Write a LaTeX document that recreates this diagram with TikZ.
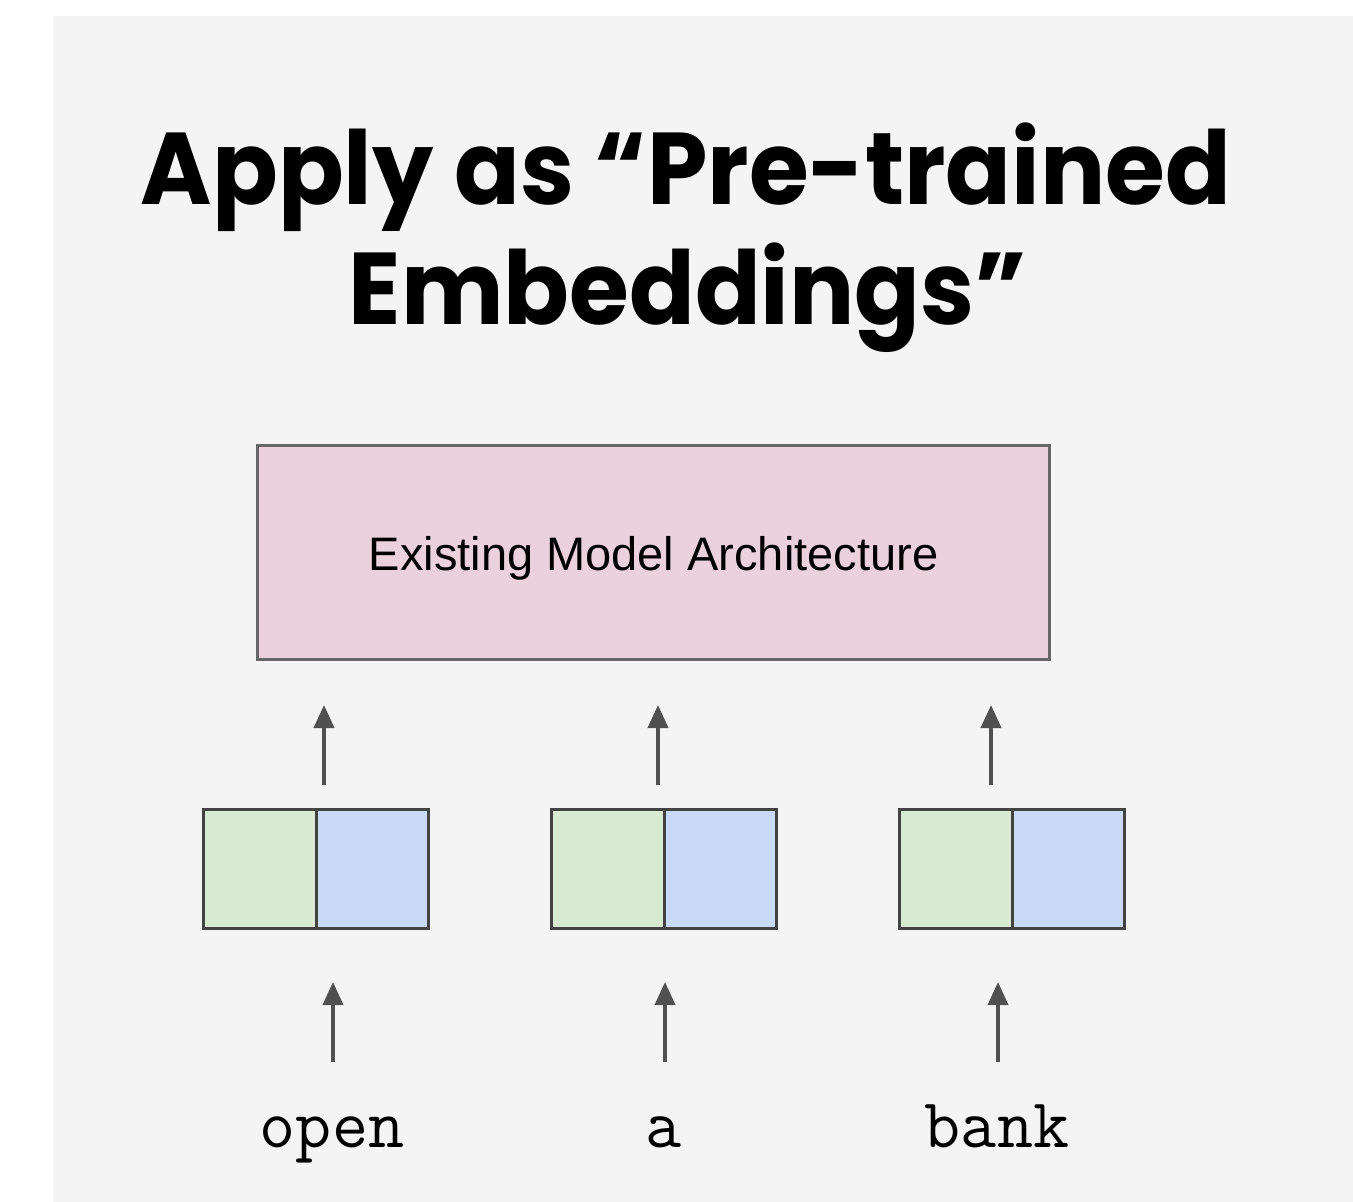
\documentclass[tikz,border=0pt]{standalone}
\usepackage{fontspec}
\setmainfont{Liberation Sans}
\newfontfamily\titlefont{Poppins}
\usetikzlibrary{arrows.meta}

\definecolor{bggray}{HTML}{F4F4F4}
\definecolor{archpink}{HTML}{EAD1DC}
\definecolor{embgreen}{HTML}{D9EAD3}
\definecolor{embblue}{HTML}{C9DAF8}
\definecolor{edgegray}{HTML}{666666}
\definecolor{darkedge}{HTML}{434343}
\definecolor{arrowgray}{HTML}{505050}

\tikzset{
	titletext/.style={font=\titlefont\bfseries\fontsize{51}{56}\selectfont, inner sep=0pt},
	archbox/.style={draw=edgegray, line width=1.5pt, fill=archpink, minimum width=396pt, minimum height=107pt, outer sep=0pt},
	archlabel/.style={font=\fontsize{23.5}{26}\selectfont, inner sep=0pt},
	halfbox/.style={draw=darkedge, line width=1.5pt, minimum width=56.25pt, minimum height=59.5pt, inner sep=0pt, outer sep=0pt},
	wordtext/.style={font=\ttfamily\fontsize{35}{38}\selectfont, inner sep=0pt},
	uparrow/.style={draw=arrowgray, line width=1.8pt, -{Triangle[length=11.5pt, width=10pt]}, color=arrowgray}
}

\begin{document}
\begin{tikzpicture}[x=0.5pt, y=-0.5pt]
		%%%%% START %%%%%
		
		\useasboundingbox (0, 0) rectangle (1353, 1202);
		\fill[bggray] (53, 16) rectangle (1353, 1202);
		
		\node[titletext, anchor=base] (title1) at (686, 205) {\scalebox{0.95}[1]{Apply as “Pre-trained}};
		\node[titletext, anchor=base] (title2) at (688, 325) {\scalebox{0.95}[1]{Embeddings”}};
		
		\node[archbox] (arch) at (653.5, 552.5) {};
		\node[archlabel] (archtext) at ([yshift=-3pt]arch.center) {Existing Model Architecture};
		
		\foreach \bx/\ux/\lx/\wx/\word/\nm in {203.5/324/333/332/open/w1, 551.5/658/665/664/a/w2, 899.5/991/998/997/bank/w3} {
			\node[halfbox, fill=embgreen, anchor=north west] (\nm g) at (\bx, 809.5) {};
			\node[halfbox, fill=embblue, anchor=north west] (\nm b) at (\nm g.north east) {};
			
			\coordinate (\nm ut) at (\ux, 785);
			\coordinate (\nm uh) at (\ux, 705);
			\draw[uparrow] (\nm ut) -- (\nm uh);
			
			\coordinate (\nm lt) at (\lx, 1062);
			\coordinate (\nm lh) at (\lx, 982);
			\draw[uparrow] (\nm lt) -- (\nm lh);
			
			\node[wordtext, anchor=base] (\nm) at (\wx, 1147) {\word};
		}
		
		%%%%% END %%%%%
	\end{tikzpicture}
\end{document}
